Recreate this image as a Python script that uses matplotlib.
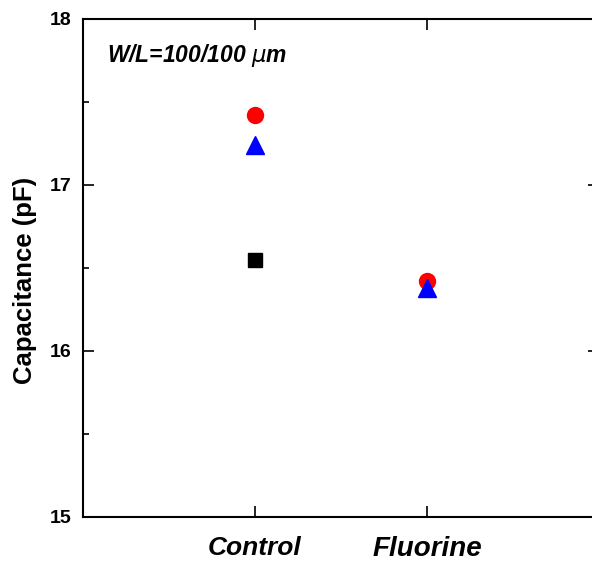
import numpy as np
import matplotlib.pyplot as plt
from matplotlib.ticker import MultipleLocator

plt.rcParams['font.family'] = ['Liberation Sans', 'DejaVu Sans']

groups = ['Control', 'Fluorine']
group_fontsize = [19, 20]
cap_circle = [17.42, 16.42]
cap_triangle = [17.24, 16.38]
cap_square = [16.55]

fig = plt.figure(figsize=(5.92, 5.67), dpi=100)
ax = fig.add_axes([0.1402, 0.0882, 0.8716, 0.8783])

x = np.arange(1, len(groups) + 1)
ax.plot(x[:len(cap_square)], cap_square, 's', color='black', ms=10)
ax.plot(x, cap_circle, 'o', color='red', ms=11.5)
ax.plot(x, cap_triangle, '^', color='blue', ms=13)

ax.set_xlim(0, 3)
ax.set_ylim(15, 18)
ax.set_xticks(x)
ax.set_xticklabels(groups, fontweight='bold', fontstyle='italic')
for lab, fs in zip(ax.get_xticklabels(), group_fontsize):
    lab.set_fontsize(fs)
ax.yaxis.set_major_locator(MultipleLocator(1))
ax.yaxis.set_minor_locator(MultipleLocator(0.5))
ax.tick_params(which='both', direction='in', top=True, right=True, width=1.2)
ax.tick_params(which='major', length=8)
ax.tick_params(which='minor', length=4)
ax.tick_params(axis='x', pad=14)
ax.tick_params(axis='y', labelsize=14, pad=8)
for lab in ax.get_yticklabels():
    lab.set_fontweight('bold')
for sp in ax.spines.values():
    sp.set_linewidth(1.5)

ax.set_ylabel('Capacitance (pF)', fontsize=18.5, fontweight='bold')
ax.yaxis.set_label_coords(-0.089, 0.476)
ax.text(0.14, 17.78, r'W/L=100/100 $\mu$m',
        fontsize=16.5, fontweight='bold', fontstyle='italic', va='center')

fig.savefig('out.png', dpi=100)
